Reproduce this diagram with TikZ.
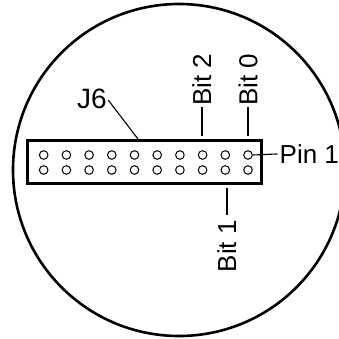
\documentclass[tikz,border=0pt]{standalone}
\usepackage{fontspec}
\setmainfont{Liberation Sans}
\usetikzlibrary{calc}
\begin{document}
\begin{tikzpicture}[x=1pt,y=-1pt,
    hdr/.style={draw,line width=3pt,minimum width=234pt,minimum height=43pt,inner sep=0pt},
    hole/.style={draw,circle,line width=1pt,minimum size=8.6pt,inner sep=0pt},
    lbl/.style={inner sep=0pt,font=\fontsize{26}{30}\selectfont},
    bitlbl/.style={lbl,rotate=90},
    lead/.style={line width=1.6pt}]
  \useasboundingbox (0,0) rectangle (339,339);
  \clip (0,0) rectangle (339,339);
  \draw[line width=2.6pt] (179,170) circle[radius=166pt];
  \node(box)[hdr] at (144,161.5) {};
  \foreach \i in {1,...,10}{
    \node(p\i a)[hole] at ({248-(\i-1)*22.7},155) {};
    \node(p\i b)[hole] at ({248-(\i-1)*22.7},170) {};
  }
  % labels
  \node(j6)[lbl,font=\fontsize{28}{32}\selectfont] at (92,98.5) {J6};
  \coordinate(j6tip) at (138,139);
  \node(pin1)[lbl,anchor=base west] at (279.5,163.3) {Pin 1};
  \node(bit2)[bitlbl,anchor=west] at (201.7,106) {Bit 2};
  \node(bit0)[bitlbl,anchor=west] at (248,106) {Bit 0};
  \node(bit1)[bitlbl,anchor=east] at (226.7,220) {Bit 1};
  % leaders
  \draw[line width=1.1pt,shorten <=2pt] (j6.east) -- (j6tip);
  \draw[line width=1.1pt,shorten >=2pt] (p1a.east) -- (pin1.west);
  \draw[lead,shorten <=1pt,shorten >=3pt] (bit2.west) -- (bit2.west |- box.north);
  \draw[lead,shorten <=1pt,shorten >=3pt] (bit0.west) -- (bit0.west |- box.north);
  \draw[lead,shorten <=5pt,shorten >=3pt] (bit1.east) -- (bit1.east |- box.south);
\end{tikzpicture}
\end{document}
